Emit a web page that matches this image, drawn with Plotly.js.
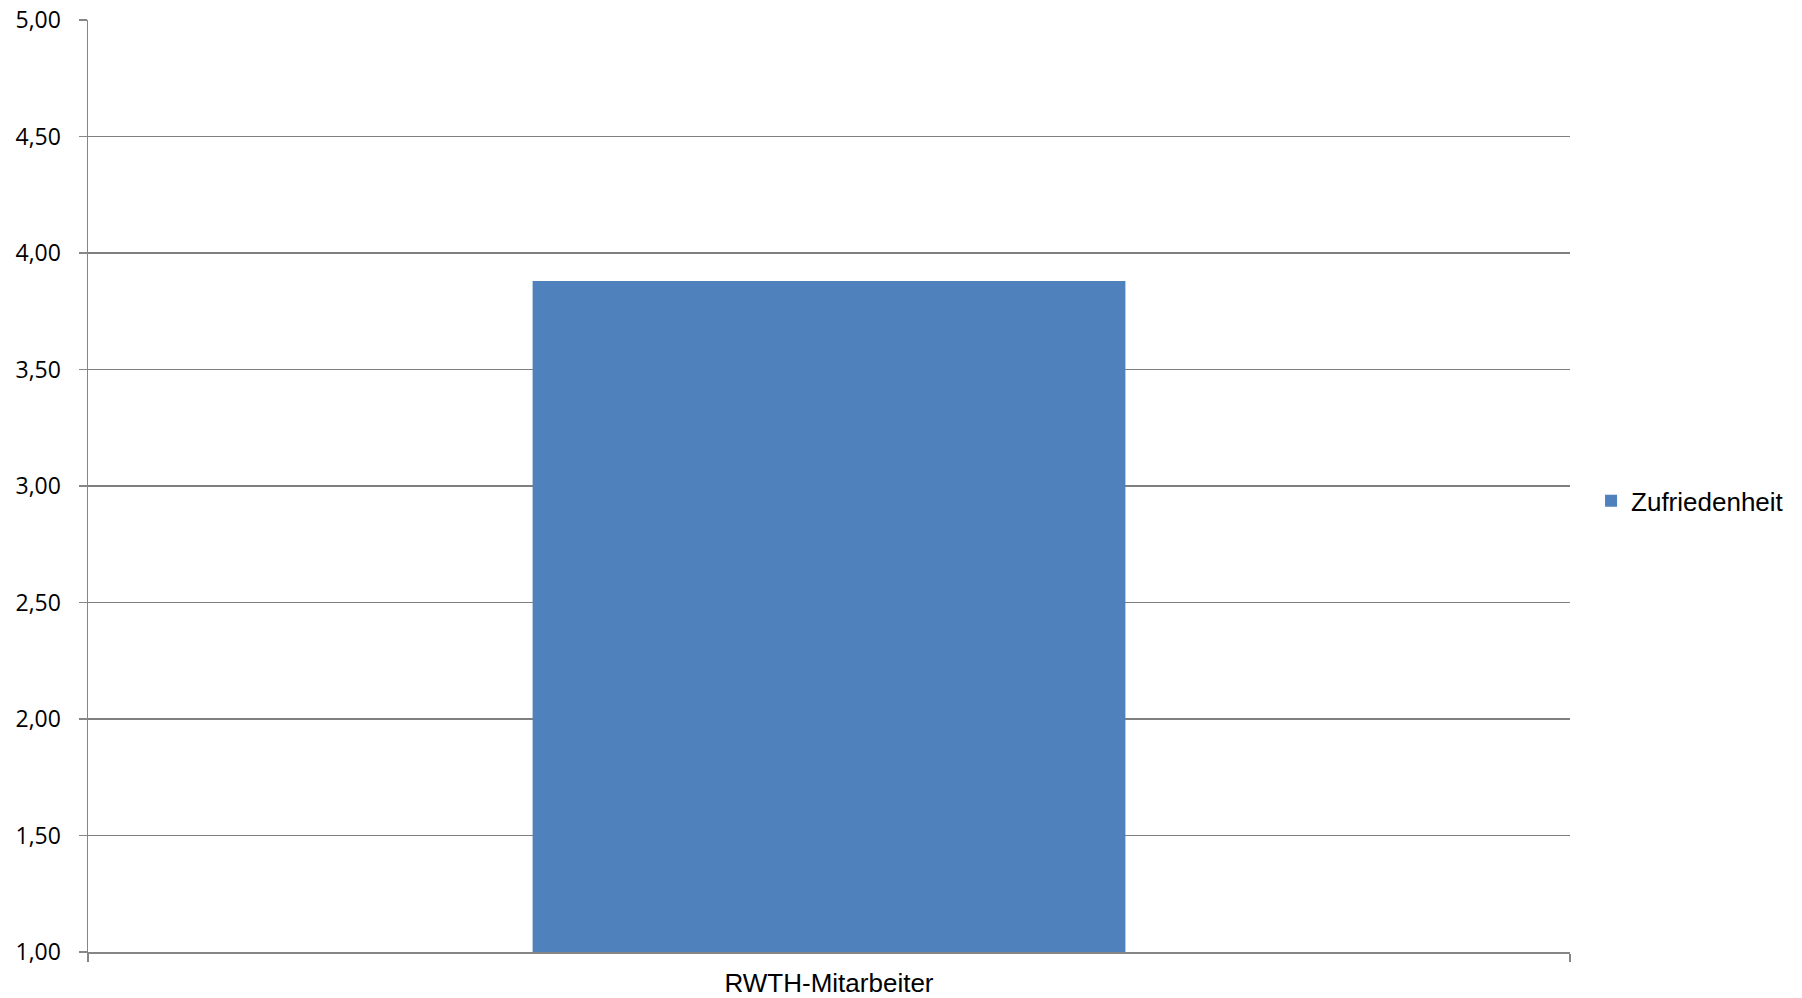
<!DOCTYPE html>
<html>
<head>
<meta charset="utf-8">
<script src="https://cdn.plot.ly/plotly-3.0.1.min.js"></script>
<style>
html,body{margin:0;padding:0;background:#fff;}
#chart{width:1802px;height:998px;}
</style>
</head>
<body>
<div id="chart"></div>
<script>
const categories = ["RWTH-Mitarbeiter"];
const seriesName = "Zufriedenheit";
const values = [3.88];
const yTickVals = [1, 1.5, 2, 2.5, 3, 3.5, 4, 4.5, 5];
const yTickText = ["1,00", "1,50", "2,00", "2,50", "3,00", "3,50", "4,00", "4,50", "5,00"];

const data = [{
  type: "bar",
  x: categories,
  y: values,
  name: seriesName,
  marker: {color: "#4F81BD", line: {width: 0}},
  width: 0.4,
  showlegend: true
}];

const layout = {
  width: 1802,
  height: 998,
  margin: {l: 88, r: 232, t: 20, b: 46},
  paper_bgcolor: "#ffffff",
  plot_bgcolor: "#ffffff",
  xaxis: {
    type: "category",
    showline: true,
    linecolor: "#868686",
    linewidth: 1.5,
    ticks: "outside",
    tickson: "boundaries",
    ticklen: 8,
    tickcolor: "#868686",
    tickwidth: 1.5,
    showgrid: false,
    tickfont: {family: "Liberation Sans, Arial, sans-serif", size: 26, color: "#000000"},
    ticklabelstandoff: 7
  },
  yaxis: {
    range: [1, 5],
    tickvals: yTickVals,
    ticktext: yTickText,
    showline: true,
    linecolor: "#868686",
    linewidth: 1.5,
    ticks: "outside",
    ticklen: 8,
    tickcolor: "#868686",
    tickwidth: 1.5,
    showgrid: true,
    gridcolor: "#7f7f7f",
    gridwidth: 1.4,
    zeroline: false,
    tickfont: {family: "Open Sans, sans-serif", size: 23, color: "#000000"},
    ticklabelstandoff: 13
  },
  showlegend: true,
  legend: {
    x: 1.0142,
    xanchor: "left",
    y: 0.484,
    yanchor: "middle",
    font: {family: "Liberation Sans, Arial, sans-serif", size: 26, color: "#000000"},
    bgcolor: "rgba(0,0,0,0)"
  }
};

Plotly.newPlot("chart", data, layout, {displayModeBar: false, staticPlot: true});
</script>
</body>
</html>
